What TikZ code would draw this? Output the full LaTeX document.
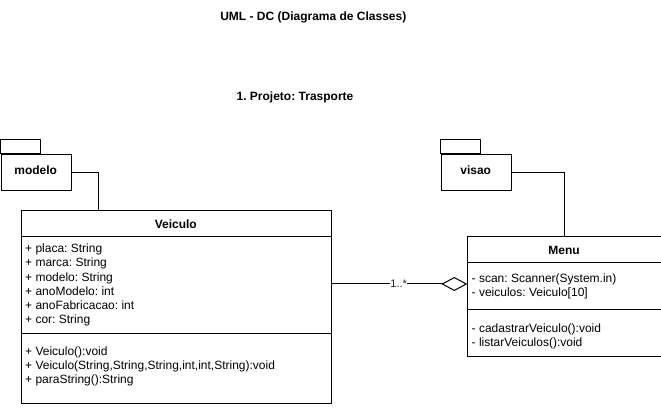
\documentclass[tikz,border=0pt]{standalone}
\usepackage{fontspec}
\setmainfont{Liberation Sans}
\usetikzlibrary{arrows.meta,calc}
\frenchspacing
\tikzset{
  umlbox/.style={draw=black, line width=1pt, fill=white, inner sep=0pt, anchor=north west},
  pkgbody/.style={draw=black, line width=1pt, fill=white, inner sep=0pt, anchor=north west, font=\fontsize{12}{14.4}\selectfont\bfseries},
  hdrtext/.style={inner sep=0pt, anchor=base, font=\fontsize{12}{14.4}\selectfont\bfseries},
  membertext/.style={inner sep=0pt, anchor=north west, align=left, font=\fontsize{12}{14.2}\selectfont},
  titletext/.style={inner sep=0pt, anchor=base, font=\fontsize{12}{14.4}\selectfont\bfseries},
  sepline/.style={draw=black, line width=1pt},
  pkglink/.style={draw=black, line width=1pt},
  assoc/.style={draw=black, line width=1pt, -{Diamond[open, fill=white, length=26pt, width=14pt, line width=1pt]}},
  multlabel/.style={fill=white, inner sep=0.5pt, text=black!85, font=\fontsize{11}{13}\selectfont}
}
\begin{document}
\frenchspacing
\begin{tikzpicture}[x=1pt,y=-1pt]
\useasboundingbox (0,0) rectangle (661,411);
\fill[white] (0,0) rectangle (661,411);

% titles
\node[titletext] (title) at (313.3,20.5) {UML - DC (Diagrama de Classes)};
\node[titletext] (subtitle) at (295,100.5) {1. Projeto: Trasporte};

% package modelo
\node[pkgbody, minimum width=70.5pt, minimum height=36.5pt] (modelo) at (0.5,154) {};
\draw[line width=1pt] (modelo.north west) rectangle ++(40.2,-14);
\node[hdrtext] (modelolabel) at (35.7,175) {modelo};

% package visao
\node[pkgbody, minimum width=70pt, minimum height=36.5pt] (visao) at (440.7,154) {};
\draw[line width=1pt] (visao.north west) rectangle ++(39.3,-14);
\node[hdrtext] (visaolabel) at (475.7,175) {visao};

% class Veiculo
\node[umlbox, minimum width=310.3pt, minimum height=192.7pt] (veiculo) at (20.7,210) {};
\draw[sepline] (20.7,236.7) -- (331,236.7);
\draw[sepline] (20.7,334) -- (331,334);
\node[hdrtext] (veiculoname) at (175.8,228.6) {Veiculo};
\node[membertext] (veiculoattr) at (25,243.9) {+ placa: String\\+ marca: String\\+ modelo: String\\+ anoModelo: int\\+ anoFabricacao: int\\+ cor: String};
\node[membertext] (veiculometh) at (25,346.7) {+ Veiculo():void\\+ Veiculo(String,String,String,int,int,String):void\\+ paraString():String};

% class Menu
\node[umlbox, minimum width=193.2pt, minimum height=119.8pt] (menu) at (467.3,236.5) {};
\draw[sepline] (467.3,262.7) -- (660.5,262.7);
\draw[sepline] (467.3,310) -- (660.5,310);
\node[hdrtext] (menuname) at (564,254.3) {Menu};
\node[membertext] (menuattr) at (471.5,273.7) {- scan: Scanner(System.in)\\- veiculos: Veiculo[10]};
\node[membertext] (menumeth) at (471.5,323.7) {- cadastrarVeiculo():void\\- listarVeiculos():void};

% package links
\coordinate (veiculotop) at ($(veiculo.north west)+(77.3,0)$);
\draw[pkglink] (modelo.east) -| (veiculotop);
\draw[pkglink] (visao.east) -| (menu.north);

% association
\coordinate (assocstart) at ($(veiculo.north east)+(0,74)$);
\coordinate (assocend) at ($(menu.north west)+(0,47.5)$);
\draw[assoc] (assocstart) -- (assocend);
\node[multlabel] (mult) at (398.7,283.5) {1..*};
\end{tikzpicture}
\end{document}
